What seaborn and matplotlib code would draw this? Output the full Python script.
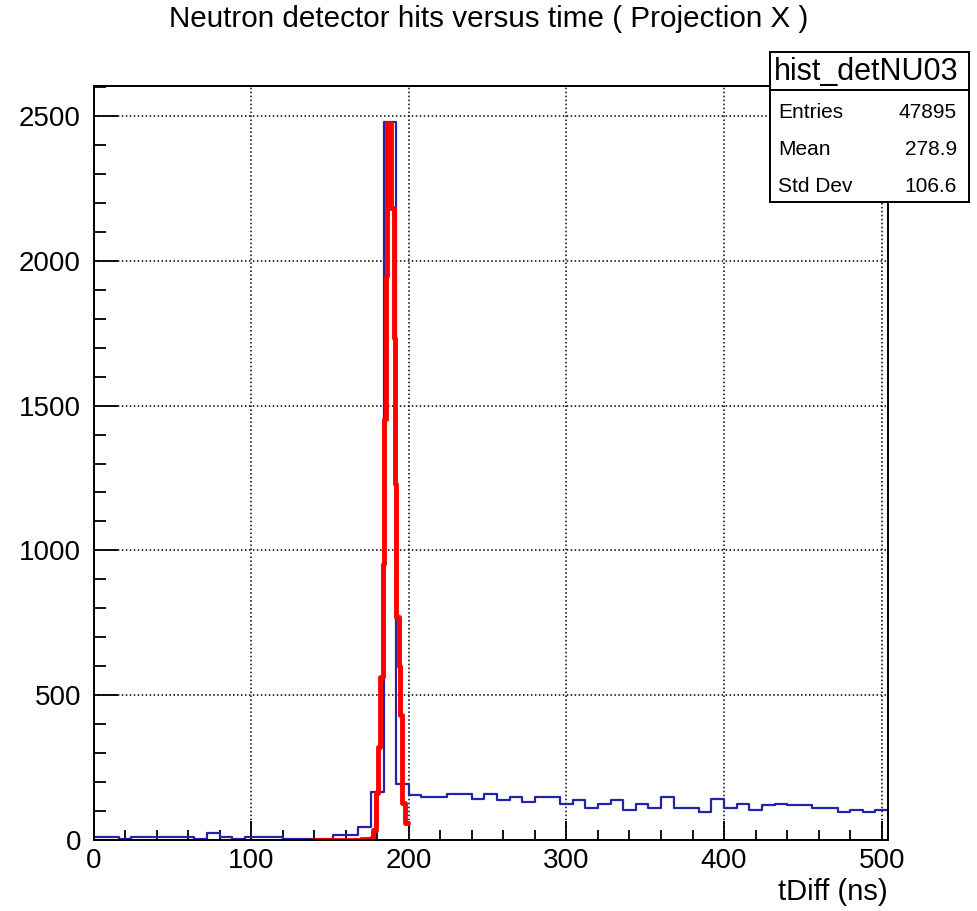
import numpy as np
import pandas as pd
import matplotlib
matplotlib.use("Agg")
import matplotlib.pyplot as plt
import seaborn as sns

# blue histogram: 63 bins of 8 ns between 0 and 504
bin_width = 8
blue_counts = [12, 12, 3, 12, 12, 12, 12, 12, 3, 25,
               12, 3, 12, 12, 12, 3, 3, 4, 5, 18,
               18, 46, 167, 2478, 195, 156, 149, 149, 158, 158,
               141, 158, 137, 147, 131, 147, 147, 126, 137, 112,
               126, 137, 105, 126, 112, 147, 112, 112, 98, 140,
               112, 126, 105, 121, 126, 121, 121, 112, 112, 98,
               103, 98, 105]

# red fitted peak (drawn as steps)
red_edges = [140, 170, 176, 177.5, 179, 180.5, 182, 183.5, 184.5, 185.5,
             186.5, 189, 190.5, 191.4, 192.2, 193.5, 194.5, 195.8, 197.3, 199.3]
red_counts = [1, 3, 8, 34, 161, 322, 563, 954, 1455, 1948,
              2477, 2184, 1735, 1231, 770, 600, 431, 127, 60]

title = "Neutron detector hits versus time ( Projection X )"
stats_name = "hist_detNU03"
stats_rows = [("Entries", "47895"), ("Mean", "278.9"), ("Std Dev", "106.6")]

sns.set_style("white")
plt.rcParams["font.family"] = ["Liberation Sans", "DejaVu Sans"]
plt.rcParams["text.color"] = "black"
plt.rcParams["axes.labelcolor"] = "black"
plt.rcParams["xtick.color"] = "black"
plt.rcParams["ytick.color"] = "black"

W, H = 977, 911
fig = plt.figure(figsize=(W / 100, H / 100), dpi=100)
ax_l, ax_r, ax_t, ax_b = 93.5, 888, 85.6, 840
ax = fig.add_axes([ax_l / W, 1 - ax_b / H, (ax_r - ax_l) / W, (ax_b - ax_t) / H])

blue_edges = [i * bin_width for i in range(len(blue_counts) + 1)]
blue = pd.DataFrame({"t": [e + bin_width / 2 for e in blue_edges[:-1]],
                     "n": blue_counts})
sns.histplot(data=blue, x="t", weights="n", bins=blue_edges,
             element="step", fill=False, color="#2424a8", linewidth=1.6, ax=ax)

red = pd.DataFrame({"t": [(a + b) / 2 for a, b in zip(red_edges[:-1], red_edges[1:])],
                    "n": red_counts})
sns.histplot(data=red, x="t", weights="n", bins=red_edges,
             element="step", fill=False, color="#ff0000", linewidth=3.5, ax=ax)

ax.set_xlim(0, 504)
ax.set_ylim(0, 2605)
ax.set_xticks([0, 100, 200, 300, 400, 500])
ax.set_xticks(np.arange(0, 504, 20), minor=True)
ax.set_yticks([0, 500, 1000, 1500, 2000, 2500])
ax.set_yticks(np.arange(0, 2605, 100), minor=True)
ax.tick_params(axis="x", which="major", direction="in", length=14, width=1.3,
               labelsize=20, pad=6, bottom=True, top=False)
ax.tick_params(axis="x", which="minor", direction="in", length=7, width=1.3,
               bottom=True, top=False)
ax.tick_params(axis="y", which="major", direction="in", length=17, width=1.3,
               labelsize=20, pad=9, left=True, right=False)
ax.tick_params(axis="y", which="minor", direction="in", length=8.5, width=1.3,
               left=True, right=False)
ax.grid(True, which="major", color="black", linestyle=(0, (1, 1.6)), linewidth=1.1)
ax.set_axisbelow(True)
for s in ax.spines.values():
    s.set_color("black")
    s.set_linewidth(1.4)
ax.set_ylabel("")
ax.set_xlabel("tDiff (ns)", fontsize=21, loc="right")
ax.xaxis.label.set_va("baseline")
ax.xaxis.set_label_coords(1.0, -(900 - ax_b) / (ax_b - ax_t))

fig.text(0.5, 1 - 19 / H, title, ha="center", va="center", fontsize=21.3)

# stats box
bx, by, bw, bh = 770, 52, 199, 150
sax = fig.add_axes([bx / W, 1 - (by + bh) / H, bw / W, bh / H])
sax.set_xlim(0, bw)
sax.set_ylim(bh, 0)
sax.set_xticks([])
sax.set_yticks([])
sax.set_facecolor("white")
for s in sax.spines.values():
    s.set_color("black")
    s.set_linewidth(1.4)
sax.axhline(38, color="black", linewidth=1.4)
sax.text(bw / 2 - 3, 20, stats_name, ha="center", va="center", fontsize=22)
for i, (k, v) in enumerate(stats_rows):
    yy = 60 + i * 37.5
    sax.text(8, yy, k, ha="left", va="center", fontsize=15)
    sax.text(bw - 12, yy, v, ha="right", va="center", fontsize=15)

fig.savefig("out.png", dpi=100)
